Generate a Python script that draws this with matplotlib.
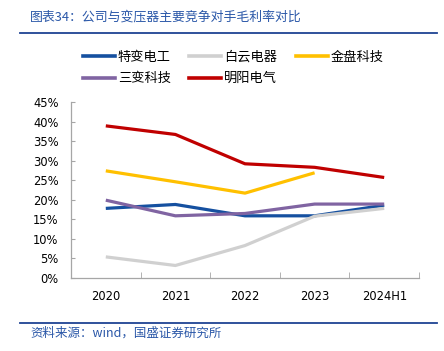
import matplotlib
matplotlib.use("Agg")
import matplotlib.pyplot as plt
from matplotlib.lines import Line2D
from matplotlib.ticker import FuncFormatter, MultipleLocator, FixedLocator

plt.rcParams['font.family'] = ['DejaVu Sans', 'Noto Sans CJK SC']

categories = ["2020", "2021", "2022", "2023", "2024H1"]
tebian = [17.8, 18.8, 15.9, 15.9, 18.6]
baiyun = [5.4, 3.2, 8.3, 15.8, 17.8]
jinpan = [27.4, 24.6, 21.7, 26.9]
sanbian = [19.9, 15.9, 16.5, 18.9, 18.9]
mingyang = [38.9, 36.7, 29.2, 28.3, 25.7]

names = ["特变电工", "白云电器", "金盘科技", "三变科技", "明阳电气"]
colors = ["#1550A0", "#D0D0D0", "#FFC000", "#8064A2", "#C00000"]

fig = plt.figure(figsize=(4.44, 3.51), dpi=100)
ax = fig.add_axes([71/444, 1-278/351, (419-71)/444, (278-102)/351])

series = [tebian, baiyun, jinpan, sanbian, mingyang]
handles = {}
for name, vals, c in zip(names, series, colors):
    x = list(range(len(vals)))
    ax.plot(x, vals, color=c, lw=2.3, solid_capstyle='butt', solid_joinstyle='round')
    handles[name] = Line2D([], [], color=c, lw=2.6)

ax.set_xlim(-0.5, len(categories) - 0.5)
ax.set_ylim(0, 45)
ax.yaxis.set_major_locator(MultipleLocator(5))
ax.yaxis.set_major_formatter(FuncFormatter(lambda v, p: f"{int(round(v))}%"))
ax.set_xticks(range(len(categories)))
ax.set_xticklabels(categories)
ax.xaxis.set_minor_locator(FixedLocator([i + 0.5 for i in range(len(categories))]))
ax.tick_params(axis='x', which='major', length=0, labelsize=8.3, pad=9, colors='#000000')
ax.tick_params(axis='x', which='minor', length=4, direction='in', color='#A6A6A6')
ax.tick_params(axis='y', which='major', length=3, direction='in', color='#A6A6A6', labelsize=8.3, pad=9)
for s in ['top', 'right']:
    ax.spines[s].set_visible(False)
for s in ['left', 'bottom']:
    ax.spines[s].set_color('#A6A6A6')
    ax.spines[s].set_linewidth(0.9)

order = ["特变电工", "三变科技", "白云电器", "明阳电气", "金盘科技"]
fig.legend([handles[n] for n in order], order, ncol=3, loc='upper left',
           bbox_to_anchor=(83/444, 1-51/351), frameon=False,
           prop={'family': ['Noto Sans CJK SC'], 'size': 9.5},
           handlelength=2.4, handletextpad=0.25, columnspacing=1.4,
           labelspacing=0.62, borderaxespad=0, borderpad=0)

blue = "#2A57A8"
fig.text(30/444, 1-17/351, "图表34：公司与变压器主要竞争对手毛利率对比", color=blue,
         fontsize=9.3, family=['Noto Sans CJK SC', 'DejaVu Sans'], va='center', ha='left',
         style='italic')
fig.add_artist(Line2D([20/444, 437/444], [1-33/351, 1-33/351], color="#1F4393", lw=1.3,
                      transform=fig.transFigure))
fig.add_artist(Line2D([20/444, 437/444], [1-323/351, 1-323/351], color="#1F4393", lw=1.3,
                      transform=fig.transFigure))
fig.text(30/444, 1-333/351, "资料来源：wind，国盛证券研究所", color=blue,
         fontsize=9, family=['Noto Sans CJK SC', 'DejaVu Sans'], va='center', ha='left',
         style='italic')

fig.savefig("out.png", dpi=100)
